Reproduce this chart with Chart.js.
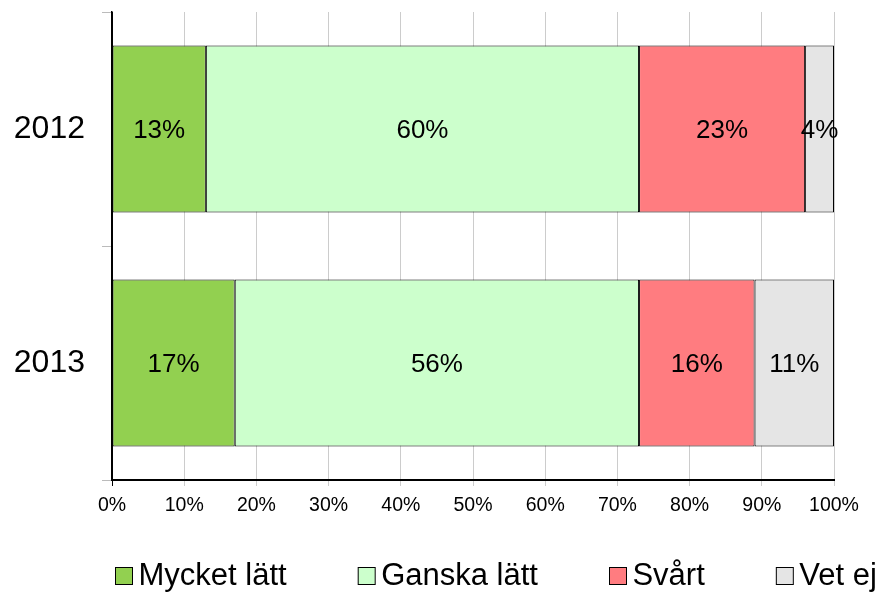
<!DOCTYPE html>
<html>
<head>
<meta charset="utf-8">
<script src="https://cdn.jsdelivr.net/npm/chart.js@4/dist/chart.umd.min.js"></script>
<style>
  html, body { margin: 0; padding: 0; background: #fff; }
  #wrap { width: 882px; height: 592px; }
</style>
</head>
<body>
<div id="wrap"><canvas id="c" width="882" height="592"></canvas></div>
<script>
// ---- data ----
const categories = ['2012', '2013'];
const seriesNames = ['Mycket lätt', 'Ganska lätt', 'Svårt', 'Vet ej'];
const mycketLatt = [13, 17];
const ganskaLatt = [60, 56];
const svart = [23, 16];
const vetEj = [4, 11];
const xTickStep = 10;
const xMin = 0;
const xMax = 100;

const seriesValues = [mycketLatt, ganskaLatt, svart, vetEj];
const seriesColors = ['#92D050', '#CCFFCC', '#FF7C80', '#E5E5E5'];
const FONT = "'Liberation Sans', Arial, sans-serif";

// legend marker: a square drawn inside a small canvas
function makeMarker(color) {
  const cv = document.createElement('canvas');
  cv.width = 40; cv.height = 18;
  const g = cv.getContext('2d');
  g.fillStyle = color;
  g.fillRect(14, 0, 18, 18);
  g.strokeStyle = '#000';
  g.lineWidth = 1;
  g.strokeRect(14.5, 0.5, 17, 17);
  return cv;
}
const markers = seriesColors.map(makeMarker);

const dataLabels = {
  id: 'dataLabels',
  afterDatasetsDraw(chart) {
    const ctx = chart.ctx;
    ctx.save();
    ctx.font = '26px ' + FONT;
    ctx.fillStyle = '#000';
    ctx.textAlign = 'center';
    ctx.textBaseline = 'middle';
    chart.data.datasets.forEach((ds, di) => {
      const meta = chart.getDatasetMeta(di);
      meta.data.forEach((el, i) => {
        const p = el.getCenterPoint();
        ctx.fillText(ds.data[i] + '%', p.x, p.y + 2);
      });
    });
    ctx.restore();
  }
};

const legendPlace = {
  id: 'legendPlace',
  beforeDraw(chart) {
    const lg = chart.legend;
    if (!lg) return;
    const pad = lg.options.labels.padding;
    lg.left = 119 - pad;
    lg.right = 10000;
    lg.top = 560.5 - pad;
  }
};

new Chart(document.getElementById('c'), {
  type: 'bar',
  data: {
    labels: categories,
    datasets: seriesNames.map((name, k) => ({
      label: name,
      data: seriesValues[k],
      backgroundColor: seriesColors[k],
      borderColor: '#000',
      borderWidth: 1,
      borderSkipped: false,
      categoryPercentage: 1,
      barPercentage: 0.714,
      pointStyle: markers[k]
    }))
  },
  options: {
    indexAxis: 'y',
    responsive: false,
    animation: false,
    devicePixelRatio: 1,
    layout: { padding: { left: 0, right: 48, top: 12, bottom: 0 } },
    scales: {
      x: {
        stacked: true,
        min: xMin,
        max: xMax,
        ticks: {
          stepSize: xTickStep,
          callback: v => v + '%',
          color: '#000',
          font: { family: FONT, size: 19.5 },
          padding: 8,
          maxRotation: 0
        },
        grid: {
          color: c => (c.index === 0 ? '#000' : '#CCCCCC'),
          lineWidth: 1,
          tickLength: 6,
          drawOnChartArea: true
        },
        border: { display: true, color: '#000', width: 2 },
        afterFit(scale) { scale.height = 52; }
      },
      y: {
        stacked: true,
        ticks: {
          color: '#000',
          font: { family: FONT, size: 32 },
          padding: 17
        },
        grid: {
          offset: true,
          drawOnChartArea: false,
          color: '#BBBBBB',
          tickLength: 10
        },
        border: { display: true, color: '#000', width: 1.5 },
        afterFit(scale) {
          scale.width = 112;
          scale.paddingTop = 0;
          scale.paddingBottom = 0;
        }
      }
    },
    plugins: {
      legend: {
        position: 'bottom',
        align: 'start',
        maxHeight: 60,
        labels: {
          color: '#000',
          font: { family: FONT, size: 31 },
          usePointStyle: true,
          pointStyleWidth: 4,
          boxHeight: 18,
          padding: 75
        }
      },
      tooltip: { enabled: false }
    }
  },
  plugins: [dataLabels, legendPlace]
});
</script>
</body>
</html>
